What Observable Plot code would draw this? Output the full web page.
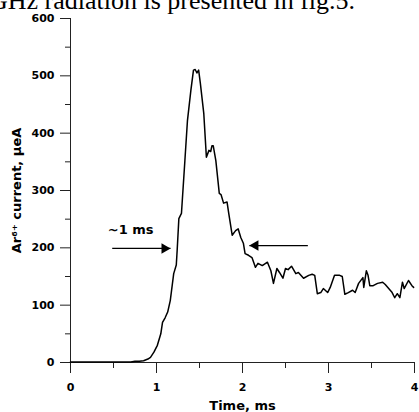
<!DOCTYPE html>
<html><head><meta charset="utf-8">
<script src="https://cdn.jsdelivr.net/npm/d3@7"></script>
<script src="https://cdn.jsdelivr.net/npm/@observablehq/plot@0.6"></script>
<style>
body{margin:0;background:#fff;overflow:hidden}
#wrap{position:relative;width:419px;height:412px;overflow:hidden}
#cap{position:absolute;left:-11px;top:-12px;font:26px/26px "Liberation Serif","Times New Roman",serif;white-space:nowrap;color:#000}
</style>
</head><body><div id="wrap"><div id="chart"></div><div id="cap">GHz radiation is presented in fig.5.</div></div>
<script>
// time, ms
const time = [
  0, 0.1, 0.2, 0.3, 0.4, 0.5, 0.6, 0.7, 0.75, 0.8,
  0.85, 0.9, 0.93, 0.97, 1.01, 1.05, 1.07, 1.10, 1.13, 1.16,
  1.20, 1.23, 1.24, 1.26, 1.29, 1.33, 1.36, 1.40, 1.43, 1.45,
  1.47, 1.49, 1.51, 1.55, 1.58, 1.61, 1.63, 1.645, 1.66, 1.69,
  1.73, 1.75, 1.78, 1.82, 1.84, 1.88, 1.92, 1.95, 1.98, 2.01,
  2.03, 2.07, 2.11, 2.15, 2.18, 2.23, 2.29, 2.33, 2.36, 2.40,
  2.43, 2.47, 2.50, 2.53, 2.57, 2.62, 2.65, 2.71, 2.77, 2.81,
  2.84, 2.87, 2.91, 2.94, 2.99, 3.02, 3.07, 3.13, 3.16, 3.19,
  3.23, 3.28, 3.31, 3.35, 3.40, 3.41, 3.44, 3.46, 3.48, 3.52,
  3.57, 3.63, 3.66, 3.70, 3.74, 3.77, 3.80, 3.83, 3.86, 3.88,
  3.93, 3.97, 3.99
];
// Ar6+ current, µeA
const current = [
  1, 1, 1, 1, 1, 1, 1, 1, 2, 2,
  3, 6, 9, 18, 30, 50, 70, 78, 88, 108,
  155, 170, 195, 251, 260, 352, 422, 475, 510, 511,
  505, 510, 487, 434, 358, 370, 368, 378, 378, 352,
  295, 293, 278, 280, 260, 222, 230, 233, 218, 208,
  190, 187, 183, 166, 173, 169, 175, 160, 138, 164,
  157, 147, 164, 162, 168, 155, 157, 147, 152, 154,
  152, 120, 122, 129, 122, 131, 152, 152, 150, 119,
  122, 126, 122, 138, 148, 131, 160, 152, 134, 134,
  138, 140, 136, 129, 122, 113, 120, 113, 140, 129,
  143, 134, 131
];
const yMajor = [0, 100, 200, 300, 400, 500, 600];
const yMinor = [50, 150, 250, 350, 450, 550];
const xMajor = [0, 1, 2, 3, 4];
const xMinor = [0.5, 1.5, 2.5, 3.5];
// annotation arrows: start, tip, level
const arrowStart = [0.485, 2.76];
const arrowTip = [1.163, 2.08];
const arrowLevel = [199, 204];
const noteText = ["~1 ms"];
const noteX = [0.70];
const noteY = [231];

const data = time.map((t, i) => ({t, v: current[i]}));
const arrows = arrowStart.map((s, i) => ({x1: s, x2: arrowTip[i], y: arrowLevel[i]}));
const notes = noteText.map((s, i) => ({s, x: noteX[i], y: noteY[i]}));
const ax = "#222";
const fmt = d => String(d);

const chart = Plot.plot({
  width: 419, height: 412,
  marginLeft: 70, marginRight: 5, marginTop: 18, marginBottom: 50,
  style: {fontFamily: "DejaVu Sans, sans-serif", fontSize: "11px", fontWeight: "bold", color: "#000", background: "transparent", overflow: "visible"},
  x: {domain: [0, 4]},
  y: {domain: [0, 600]},
  marks: [
    Plot.axisY({ticks: yMajor, tickSize: 10, tickPadding: 6, tickFormat: fmt, stroke: ax, label: null}),
    Plot.axisY({ticks: yMinor, tickSize: 5, stroke: ax, fill: "none", label: null}),
    Plot.axisY({ticks: [], label: "Ar⁶⁺ current, μeA", labelAnchor: "center", labelArrow: "none", labelOffset: 59, fontSize: 13}),
    Plot.axisX({ticks: xMajor, tickSize: 11, tickPadding: 10, tickFormat: fmt, stroke: ax, label: null}),
    Plot.axisX({ticks: xMinor, tickSize: 6, stroke: ax, fill: "none", label: null}),
    Plot.axisX({ticks: [], label: "Time, ms", labelAnchor: "center", labelArrow: "none", fontSize: 13}),
    Plot.ruleX([0], {stroke: ax}),
    Plot.ruleY([0], {stroke: ax}),
    Plot.line(data, {x: "t", y: "v", stroke: "#000", strokeWidth: 1.5}),
    Plot.link(arrows, {x1: "x1", x2: "x2", y1: "y", y2: "y", stroke: "#000", strokeWidth: 1.3}),
    Plot.dot(arrows.filter(d => d.x2 > d.x1), {x: "x2", y: "y", symbol: "triangle", r: 3.9, rotate: 90, dx: -6, fill: "#000", stroke: "none"}),
    Plot.dot(arrows.filter(d => d.x2 < d.x1), {x: "x2", y: "y", symbol: "triangle", r: 3.9, rotate: -90, dx: 6, fill: "#000", stroke: "none"}),
    Plot.text(notes, {x: "x", y: "y", text: "s", fontSize: 13, fontWeight: "bold", fill: "#000"})
  ]
});
document.getElementById("chart").appendChild(chart);
</script>
</body></html>
